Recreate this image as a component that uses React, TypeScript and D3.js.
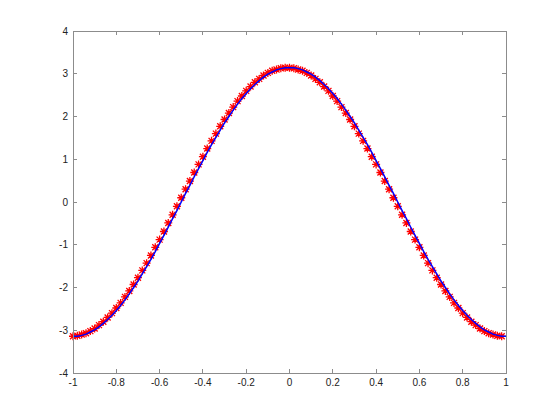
import React from "react";
import * as d3 from "d3";

// sample grid, x from -1 to 1
const xs = [
  -1, -0.98, -0.96, -0.94, -0.92, -0.9, -0.88, -0.86, -0.84, -0.82,
  -0.8, -0.78, -0.76, -0.74, -0.72, -0.7, -0.68, -0.66, -0.64, -0.62,
  -0.6, -0.58, -0.56, -0.54, -0.52, -0.5, -0.48, -0.46, -0.44, -0.42,
  -0.4, -0.38, -0.36, -0.34, -0.32, -0.3, -0.28, -0.26, -0.24, -0.22,
  -0.2, -0.18, -0.16, -0.14, -0.12, -0.1, -0.08, -0.06, -0.04, -0.02,
  0, 0.02, 0.04, 0.06, 0.08, 0.1, 0.12, 0.14, 0.16, 0.18,
  0.2, 0.22, 0.24, 0.26, 0.28, 0.3, 0.32, 0.34, 0.36, 0.38,
  0.4, 0.42, 0.44, 0.46, 0.48, 0.5, 0.52, 0.54, 0.56, 0.58,
  0.6, 0.62, 0.64, 0.66, 0.68, 0.7, 0.72, 0.74, 0.76, 0.78,
  0.8, 0.82, 0.84, 0.86, 0.88, 0.9, 0.92, 0.94, 0.96, 0.98, 1,
];

// blue curve
const lineVals = [
  -3.14, -3.14, -3.12, -3.09, -3.04, -2.99, -2.92, -2.84, -2.75, -2.65,
  -2.54, -2.42, -2.29, -2.15, -2.0, -1.85, -1.68, -1.51, -1.34, -1.16,
  -0.97, -0.78, -0.59, -0.39, -0.2, 0.0, 0.2, 0.39, 0.59, 0.78,
  0.97, 1.16, 1.34, 1.51, 1.68, 1.85, 2.0, 2.15, 2.29, 2.42,
  2.54, 2.65, 2.75, 2.84, 2.92, 2.99, 3.04, 3.09, 3.12, 3.14,
  3.14, 3.14, 3.12, 3.09, 3.04, 2.99, 2.92, 2.84, 2.75, 2.65,
  2.54, 2.42, 2.29, 2.15, 2.0, 1.85, 1.68, 1.51, 1.34, 1.16,
  0.97, 0.78, 0.59, 0.39, 0.2, 0.0, -0.2, -0.39, -0.59, -0.78,
  -0.97, -1.16, -1.34, -1.51, -1.68, -1.85, -2.0, -2.15, -2.29, -2.42,
  -2.54, -2.65, -2.75, -2.84, -2.92, -2.99, -3.04, -3.09, -3.12, -3.14, -3.14,
];

// red stars (first 100 grid points)
const starVals = [
  -3.14, -3.13, -3.1, -3.07, -3.02, -2.96, -2.88, -2.8, -2.7, -2.6,
  -2.48, -2.36, -2.22, -2.08, -1.93, -1.77, -1.6, -1.43, -1.25, -1.06,
  -0.88, -0.69, -0.49, -0.3, -0.1, 0.1, 0.3, 0.49, 0.69, 0.88,
  1.06, 1.25, 1.43, 1.6, 1.77, 1.93, 2.08, 2.22, 2.36, 2.48,
  2.6, 2.7, 2.8, 2.88, 2.96, 3.02, 3.07, 3.1, 3.13, 3.14,
  3.14, 3.13, 3.1, 3.07, 3.02, 2.96, 2.88, 2.8, 2.7, 2.6,
  2.48, 2.36, 2.22, 2.08, 1.93, 1.77, 1.6, 1.43, 1.25, 1.06,
  0.88, 0.69, 0.49, 0.3, 0.1, -0.1, -0.3, -0.49, -0.69, -0.88,
  -1.06, -1.25, -1.43, -1.6, -1.77, -1.93, -2.08, -2.22, -2.36, -2.48,
  -2.6, -2.7, -2.8, -2.88, -2.96, -3.02, -3.07, -3.1, -3.13, -3.14,
];

const xTicks = [-1, -0.8, -0.6, -0.4, -0.2, 0, 0.2, 0.4, 0.6, 0.8, 1];
const yTicks = [-4, -3, -2, -1, 0, 1, 2, 3, 4];

const W = 560;
const H = 420;
const left = 73, right = 506, top = 31, bottom = 373;
const axisCol = "#8c8c8c";
const font = "'Liberation Sans', Arial, sans-serif";

export default function App() {
  const x = d3.scaleLinear().domain([-1, 1]).range([left, right]);
  const y = d3.scaleLinear().domain([-4, 4]).range([bottom, top]);

  const line = d3
    .line<number>()
    .x((d, i) => x(xs[i]))
    .y((d) => y(d));

  const tk = 4;
  const s = 4; // star arm
  const sd = 3;

  return (
    <svg
      width={W}
      height={H}
      style={{ position: "fixed", left: 0, top: 0, background: "#fff" }}
    >
      <rect x={0} y={0} width={W} height={H} fill="#fff" />

      {/* markers */}
      <g stroke="#ff0000" strokeWidth={1.3} fill="none">
        {starVals.map((v, i) => {
          const cx = x(xs[i]);
          const cy = y(v);
          return (
            <path
              key={i}
              d={`M${cx - s},${cy}H${cx + s}M${cx},${cy - s}V${cy + s}M${cx - sd},${cy - sd}L${cx + sd},${cy + sd}M${cx - sd},${cy + sd}L${cx + sd},${cy - sd}`}
            />
          );
        })}
      </g>

      <path d={line(lineVals) || ""} fill="none" stroke="#0000ff" strokeWidth={1.5} />

      {/* box + ticks */}
      <g stroke={axisCol} strokeWidth={1} fill="none" shapeRendering="crispEdges">
        <rect x={left} y={top} width={right - left} height={bottom - top} />
        {xTicks.map((t) => (
          <g key={"x" + t}>
            <line x1={x(t)} x2={x(t)} y1={bottom} y2={bottom - tk} />
            <line x1={x(t)} x2={x(t)} y1={top} y2={top + tk} />
          </g>
        ))}
        {yTicks.map((t) => (
          <g key={"y" + t}>
            <line x1={left} x2={left + tk} y1={y(t)} y2={y(t)} />
            <line x1={right} x2={right - tk} y1={y(t)} y2={y(t)} />
          </g>
        ))}
      </g>

      <g fontFamily={font} fontSize={10} fill="#222">
        {xTicks.map((t) => (
          <text key={"xl" + t} x={x(t)} y={bottom + 13} textAnchor="middle">
            {t}
          </text>
        ))}
        {yTicks.map((t) => (
          <text key={"yl" + t} x={left - 5} y={y(t) + 3.5} textAnchor="end">
            {t}
          </text>
        ))}
      </g>
    </svg>
  );
}
